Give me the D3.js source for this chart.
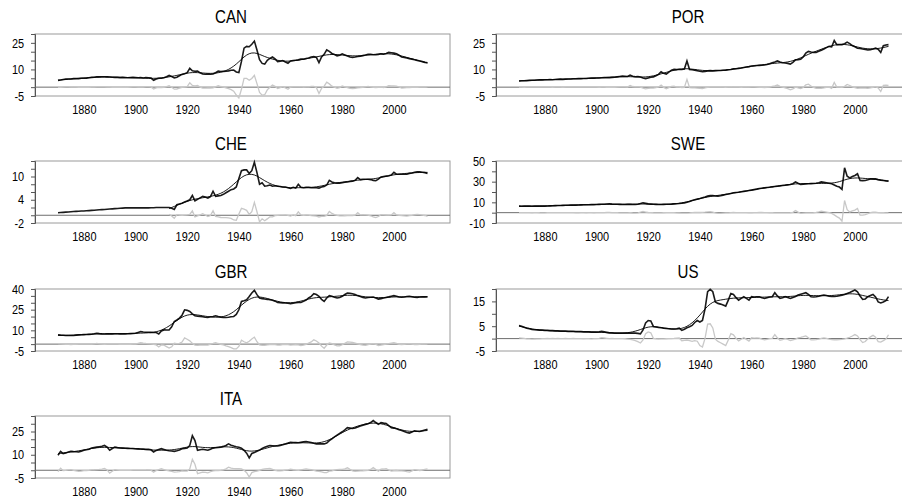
<!DOCTYPE html>
<html>
<head>
<meta charset="utf-8">
<script src="https://cdn.jsdelivr.net/npm/d3@7/dist/d3.min.js"></script>
<style>
    body { margin: 0; background: #fff; }
    text { font-family: "Liberation Sans", Arial, sans-serif; fill: #000; }
</style>
</head>
<body>
<div id="wrapper"></div>
<script>
// years on the x axis
const years = d3.range(1870, 2014)
const xTickYears = [1880, 1900, 1920, 1940, 1960, 1980, 2000]

const canValues = [
    3.8, 4.0, 4.3, 4.5, 4.6, 4.6, 4.8, 4.9, 4.8, 5.0,
    5.0, 5.1, 5.3, 5.5, 5.6, 5.8, 5.8, 5.9, 5.9, 5.8,
    5.7, 5.6, 5.5, 5.5, 5.4, 5.5, 5.4, 5.3, 5.4, 5.5,
    5.4, 5.3, 5.4, 5.2, 5.4, 5.3, 5.1, 3.9, 4.6, 5.0,
    5.0, 5.3, 5.9, 6.6, 6.0, 5.2, 5.6, 6.4, 7.2, 7.6,
    8.2, 10.6, 9.2, 9.0, 9.1, 8.1, 7.4, 7.3, 7.4, 7.3,
    7.4, 8.1, 9.0, 8.8, 8.9, 9.0, 9.2, 9.5, 9.6, 8.6,
    8.2, 14.5, 22.0, 23.0, 22.8, 24.2, 26.0, 21.0, 15.5, 13.4,
    13.0, 15.2, 16.2, 17.0, 16.0, 14.4, 14.6, 15.0, 14.2, 13.5,
    14.8, 15.0, 15.2, 15.4, 15.8, 15.8, 16.2, 16.4, 17.0, 17.3,
    16.8, 13.8, 17.0, 18.5, 21.0, 20.2, 19.0, 18.4, 17.7, 18.0,
    18.8, 18.2, 17.6, 17.0, 16.8, 17.0, 17.3, 17.5, 17.8, 18.1,
    18.6, 18.5, 18.3, 18.3, 18.5, 18.8, 18.6, 19.0, 19.6, 19.4,
    19.2, 18.8, 18.0, 17.0, 16.8, 16.5, 16.1, 15.8, 15.5, 15.1,
    14.8, 14.4, 14.0, 13.8]

const porValues = [
    3.5, 3.6, 3.6, 3.7, 3.8, 3.9, 3.9, 4.0, 4.1, 4.1,
    4.2, 4.2, 4.3, 4.2, 4.3, 4.4, 4.5, 4.4, 4.5, 4.6,
    4.6, 4.7, 4.7, 4.8, 4.8, 4.9, 4.9, 5.0, 5.1, 5.1,
    5.2, 5.2, 5.3, 5.4, 5.4, 5.4, 5.5, 5.6, 5.8, 6.0,
    6.2, 6.1, 6.0, 6.8, 6.2, 5.9, 6.0, 5.7, 5.2, 4.8,
    5.2, 5.6, 5.8, 6.4, 7.2, 8.7, 7.8, 7.4, 8.5, 9.6,
    10.0, 9.9, 10.1, 10.0, 10.2, 14.8, 10.0, 9.8, 9.6, 9.3,
    9.0, 8.7, 8.9, 9.2, 9.3, 9.2, 9.3, 9.4, 9.4, 9.5,
    9.6, 9.8, 10.0, 10.3, 10.4, 10.6, 10.8, 11.1, 11.4, 11.6,
    11.9, 12.1, 12.2, 12.3, 12.4, 12.5, 12.8, 13.2, 13.8, 14.2,
    14.8, 14.2, 13.8, 13.6, 13.4, 13.0, 14.0, 15.4, 15.5, 15.8,
    17.0, 19.2, 20.2, 19.8, 19.6, 19.6, 20.2, 20.8, 21.5, 22.3,
    23.0, 22.7, 26.3, 24.0, 24.1, 24.0, 24.5, 25.4, 24.6, 23.5,
    22.8, 22.0, 21.8, 21.5, 21.3, 21.0, 21.2, 21.5, 22.0, 21.4,
    19.6, 23.4, 23.8, 24.0]

const cheValues = [
    0.65, 0.7, 0.75, 0.8, 0.85, 0.9, 0.95, 1.0, 1.05, 1.1,
    1.1, 1.15, 1.2, 1.25, 1.3, 1.35, 1.4, 1.45, 1.5, 1.55,
    1.6, 1.65, 1.7, 1.75, 1.8, 1.85, 1.9, 1.9, 1.9, 1.9,
    1.9, 1.9, 1.9, 1.9, 1.9, 1.9, 1.95, 1.95, 2.0, 2.0,
    2.0, 2.0, 2.0, 2.0, 1.8, 1.5, 2.7, 2.9, 3.1, 3.4,
    3.7, 4.0, 5.1, 3.7, 4.1, 4.5, 4.9, 4.7, 4.4, 4.8,
    6.2, 4.9, 5.0, 5.1, 5.4, 5.8, 6.2, 6.6, 6.8, 7.3,
    9.5, 11.5, 11.7, 11.7, 10.8, 11.5, 13.7, 11.0, 8.0, 8.4,
    7.5, 7.6, 7.8, 7.5, 7.6, 7.5, 7.4, 7.3, 7.3, 7.1,
    6.9, 7.2, 7.0, 8.0, 7.2, 7.1, 7.2, 7.2, 7.1, 7.1,
    7.1, 7.0, 7.3, 7.4, 7.8, 9.0, 8.6, 8.4, 8.3, 8.3,
    8.4, 8.5, 8.6, 8.7, 8.8, 9.0, 9.7, 9.2, 9.3, 9.3,
    9.3, 9.2, 9.0, 8.9, 9.3, 9.9, 10.0, 10.1, 10.2, 10.4,
    11.1, 10.6, 10.6, 10.6, 10.6, 10.6, 10.8, 10.9, 11.1, 11.2,
    11.2, 11.1, 11.0, 10.8]

const sweValues = [
    6.3, 6.2, 6.3, 6.4, 6.3, 6.2, 6.3, 6.4, 6.3, 6.3,
    6.3, 6.5, 6.6, 6.7, 6.8, 6.9, 7.0, 7.1, 7.2, 7.2,
    7.3, 7.4, 7.3, 7.4, 7.5, 7.6, 7.6, 7.7, 7.8, 7.8,
    7.9, 8.0, 8.1, 8.2, 8.4, 8.5, 8.3, 8.2, 8.1, 8.0,
    7.9, 7.9, 8.0, 8.1, 7.9, 7.9, 8.2, 8.8, 9.5, 9.0,
    8.5, 8.3, 8.1, 8.0, 7.9, 7.9, 8.0, 8.1, 8.2, 8.3,
    8.5, 8.6, 8.8, 9.1, 9.5, 10.0, 10.8, 11.8, 12.5, 13.1,
    13.7, 14.5, 15.2, 16.0, 16.5, 16.6, 16.2, 16.0, 16.4, 17.0,
    17.6, 18.0, 18.6, 19.2, 19.5, 19.8, 20.2, 20.6, 21.0, 21.4,
    21.8, 22.3, 22.8, 23.4, 23.7, 24.0, 24.3, 24.6, 25.0, 25.3,
    25.6, 25.9, 26.3, 26.5, 26.9, 27.3, 28.0, 29.8, 28.5, 27.3,
    27.6, 27.9, 28.0, 28.1, 28.2, 28.5, 29.0, 29.8, 29.4, 28.9,
    28.4, 27.9, 26.8, 25.6, 24.8, 22.5, 43.4, 35.3, 33.7, 35.0,
    36.0, 37.6, 31.1, 31.0, 31.1, 31.8, 32.7, 32.8, 32.7, 32.0,
    31.5, 31.2, 30.8, 30.5]

const gbrValues = [
    6.7, 6.5, 6.4, 6.3, 6.2, 6.2, 6.3, 6.5, 6.7, 6.8,
    6.9, 7.0, 7.1, 7.2, 7.5, 7.9, 7.6, 7.4, 7.3, 7.4,
    7.4, 7.4, 7.5, 7.5, 7.4, 7.4, 7.4, 7.5, 7.6, 7.7,
    7.9, 8.5, 9.1, 8.8, 8.6, 8.6, 8.5, 8.4, 8.4, 7.4,
    9.5, 10.3, 10.2, 10.3, 12.5, 16.4, 17.5, 18.9, 21.0, 24.9,
    24.5, 23.7, 22.0, 20.6, 20.3, 20.1, 19.8, 19.5, 19.3, 19.8,
    20.1, 20.6, 20.0, 19.6, 19.4, 19.3, 19.5, 19.8, 20.1, 21.5,
    24.9, 31.0, 31.5, 32.2, 34.5, 37.1, 39.0, 35.9, 33.5, 33.0,
    32.7, 32.5, 32.2, 31.8, 31.2, 30.3, 30.0, 29.9, 29.8, 29.6,
    29.3, 29.6, 30.0, 30.3, 30.2, 31.0, 32.0, 33.5, 34.7, 36.6,
    36.0, 34.7, 32.5, 31.0, 33.5, 35.2, 34.8, 34.0, 33.5, 33.8,
    34.7, 36.0, 37.1, 36.9, 36.6, 36.0, 35.2, 34.5, 33.8, 33.5,
    33.8, 34.0, 34.2, 33.5, 32.7, 33.0, 33.4, 33.9, 34.3, 34.8,
    35.2, 34.8, 34.2, 34.0, 34.2, 34.5, 34.7, 34.4, 34.0, 33.9,
    34.2, 34.4, 34.3, 34.4]

const usValues = [
    5.3, 5.0, 4.6, 4.2, 4.0, 3.7, 3.6, 3.5, 3.4, 3.4,
    3.3, 3.3, 3.2, 3.2, 3.1, 3.1, 3.0, 3.0, 3.0, 2.9,
    2.9, 2.9, 2.8, 2.8, 2.8, 2.7, 2.7, 2.7, 2.6, 2.6,
    2.6, 2.7, 2.9, 2.7, 2.5, 2.3, 2.3, 2.2, 2.2, 2.2,
    2.2, 2.2, 2.2, 2.2, 2.2, 2.2, 2.1, 1.9, 3.5, 6.3,
    7.3, 7.1, 4.9, 4.7, 4.5, 4.4, 4.2, 4.1, 4.0, 3.9,
    3.9, 4.0, 4.2, 3.3, 3.8, 4.4, 4.8, 5.3, 6.5, 7.3,
    6.7, 7.3, 12.0, 18.9, 19.9, 18.9, 14.8, 14.2, 13.9, 13.5,
    13.1, 15.5, 18.2, 17.8, 16.5, 15.5, 16.2, 16.9, 16.2, 15.5,
    16.9, 16.8, 16.9, 16.9, 16.5, 16.2, 16.5, 16.8, 16.9, 18.5,
    17.2, 16.2, 16.5, 16.9, 16.6, 16.2, 16.6, 17.0, 17.6, 17.9,
    18.2, 18.5, 17.8, 16.9, 16.8, 16.9, 17.1, 17.4, 17.6, 17.4,
    17.1, 17.0, 17.0, 17.1, 17.3, 17.5, 17.8, 18.2, 18.6, 19.1,
    19.6, 18.9, 17.2, 15.8, 16.0, 16.9, 17.4, 17.8, 16.8, 14.8,
    14.4, 14.8, 15.3, 16.9]

const itaValues = [
    9.7, 12.2, 10.8, 11.2, 11.8, 12.2, 12.0, 11.9, 11.8, 12.3,
    12.9, 13.2, 13.6, 14.3, 14.6, 14.9, 15.2, 15.5, 16.0, 15.0,
    12.9, 14.0, 14.9, 14.6, 14.4, 14.3, 14.2, 14.1, 14.0, 14.0,
    13.9, 13.8, 13.7, 13.6, 13.5, 13.5, 13.2, 11.8, 12.8, 13.4,
    13.9, 13.4, 12.9, 12.6, 12.4, 12.2, 12.6, 13.1, 13.9, 14.1,
    14.3, 16.0, 22.3, 19.1, 12.9, 13.2, 13.5, 13.2, 12.9, 13.6,
    14.3, 14.5, 14.7, 14.9, 15.4, 16.0, 17.0, 16.2, 15.6, 15.2,
    14.9, 14.2, 12.9, 11.0, 8.0, 10.8, 11.5, 12.2, 13.0, 14.0,
    14.9, 15.5, 16.0, 15.8, 15.6, 15.6, 16.0, 16.4, 17.0, 17.5,
    18.1, 17.9, 17.8, 17.7, 18.0, 18.3, 18.5, 18.2, 17.9, 17.4,
    17.0, 17.0, 17.0, 17.0, 17.5, 19.1, 20.2, 21.5, 22.7, 23.8,
    24.8, 26.0, 27.5, 27.2, 26.9, 27.3, 27.9, 28.6, 29.1, 29.6,
    30.0, 30.8, 32.1, 30.8, 29.6, 30.7, 30.4, 30.2, 28.8, 27.5,
    27.2, 26.8, 26.1, 25.6, 25.0, 24.4, 24.0, 24.7, 25.4, 25.2,
    25.0, 25.5, 26.0, 26.5]

// panel settings
const countries = ["CAN", "POR", "CHE", "SWE", "GBR", "US", "ITA"]
const seriesList = [canValues, porValues, cheValues, sweValues, gbrValues, usValues, itaValues]
const yDomains = [[-5, 30], [-5, 30], [-2, 14], [-10, 50], [-5, 40], [-5, 20], [-5, 35]]
const yLabelTicks = [[-5, 10, 25], [-5, 10, 25], [-2, 4, 10], [-10, 10, 30, 50], [-5, 10, 25, 40], [-5, 5, 15], [-5, 10, 25]]
const yMinorSteps = [5, 5, 2, 10, 5, 5, 5]
const filterStart = [1870, 1870, 1913, 1870, 1870, 1870, 1870]
const lambda = 100

// Hodrick-Prescott trend (banded solve of (I + lambda*D'D) t = y)
function hpFilter(y, lam) {
    const n = y.length
    const a = Array.from({length: n}, (_, i) => Array.from({length: n}, (_, j) => i === j ? 1 : 0))
    const c = [1, -2, 1]
    for (let k = 0; k < n - 2; k++)
        for (let i = 0; i < 3; i++)
            for (let j = 0; j < 3; j++)
                a[k + i][k + j] += lam * c[i] * c[j]
    const b = y.slice()
    for (let p = 0; p < n; p++) {
        for (let r = p + 1; r < Math.min(n, p + 3); r++) {
            const f = a[r][p] / a[p][p]
            for (let q = p; q < Math.min(n, p + 3); q++) a[r][q] -= f * a[p][q]
            b[r] -= f * b[p]
        }
    }
    const t = new Array(n)
    for (let p = n - 1; p >= 0; p--) {
        let s = b[p]
        for (let q = p + 1; q < Math.min(n, p + 3); q++) s -= a[p][q] * t[q]
        t[p] = s / a[p][p]
    }
    return t
}

const width = 902
const height = 503
const svg = d3.select("#wrapper")
    .append("svg")
    .attr("width", width)
    .attr("height", height)

const colOffset = [0, 461]
const rowTop = [34, 161, 289, 416]
const plotH = 62
const narrow = "scale(0.84,1)" // the original uses a narrow face

function drawPanel(i) {
    const col = i % 2
    const row = Math.floor(i / 2)
    const ox = colOffset[col]
    const top = rowTop[row]
    const bottom = top + plotH
    const left = ox + 35
    const right = ox + 450

    const g = svg.append("g")

    const xScale = d3.scaleLinear()
        .domain([1870, 2013])
        .range([ox + 58, ox + 427.5])
    const yScale = d3.scaleLinear()
        .domain(yDomains[i])
        .range([bottom, top])

    // title
    g.append("g")
        .attr("transform", `translate(${col === 0 ? 231 : 688},${top - 11})`)
        .append("text")
        .attr("transform", narrow)
        .attr("text-anchor", "middle")
        .attr("font-size", "18px")
        .text(countries[i])

    // frame
    g.append("rect")
        .attr("x", left)
        .attr("y", top)
        .attr("width", right - left)
        .attr("height", plotH)
        .attr("fill", "none")
        .attr("stroke", "#9a9a9a")
        .attr("stroke-width", 1)

    // y axis with minor ticks, labels on some
    const minor = d3.range(yDomains[i][0], yDomains[i][1] + 0.001, yMinorSteps[i])
    const labelled = yLabelTicks[i]
    const yAxis = d3.axisLeft(yScale)
        .tickValues(minor)
        .tickSize(4)
        .tickPadding(9)
        .tickFormat(d => labelled.includes(d) ? d : "")
    const ya = g.append("g")
        .attr("transform", `translate(${left},0)`)
        .call(yAxis)
    ya.select(".domain").attr("stroke", "#555")
    ya.selectAll(".tick line").attr("stroke", "#555")
    ya.selectAll(".tick text")
        .attr("font-size", "13px")
        .attr("font-family", null)
        .attr("fill", "#000")
        .attr("transform", narrow)

    // x axis labels
    const xAxis = d3.axisBottom(xScale)
        .tickValues(xTickYears)
        .tickSize(0)
        .tickPadding(9)
        .tickFormat(d3.format("d"))
    const xa = g.append("g")
        .attr("transform", `translate(0,${bottom})`)
        .call(xAxis)
    xa.select(".domain").remove()
    xa.selectAll(".tick text")
        .attr("font-size", "13px")
        .attr("font-family", null)
        .attr("fill", "#000")
        .attr("transform", narrow)

    // zero line
    g.append("line")
        .attr("x1", left)
        .attr("x2", right)
        .attr("y1", yScale(0))
        .attr("y2", yScale(0))
        .attr("stroke", "#6e6e6e")
        .attr("stroke-width", 1)

    // actual, trend, cycle
    const values = seriesList[i]
    const startIdx = years.indexOf(filterStart[i])
    const sub = values.slice(startIdx)
    const trend = hpFilter(sub, lambda)
    const actual = years.map((y, k) => ({year: y, v: values[k]}))
    const trendData = trend.map((t, k) => ({year: years[startIdx + k], v: t}))
    const cycleData = trend.map((t, k) => ({year: years[startIdx + k], v: sub[k] - t}))

    const line = d3.line()
        .x(d => xScale(d.year))
        .y(d => yScale(d.v))

    g.append("path")
        .datum(cycleData)
        .attr("d", line)
        .attr("fill", "none")
        .attr("stroke", "#c8c8c8")
        .attr("stroke-width", 1.3)

    g.append("path")
        .datum(actual)
        .attr("d", line)
        .attr("fill", "none")
        .attr("stroke", "#1a1a1a")
        .attr("stroke-width", 1.6)

    g.append("path")
        .datum(trendData)
        .attr("d", line)
        .attr("fill", "none")
        .attr("stroke", "#000")
        .attr("stroke-width", 0.9)
}

for (let i = 0; i < countries.length; i++) {
    drawPanel(i)
}
</script>
</body>
</html>
